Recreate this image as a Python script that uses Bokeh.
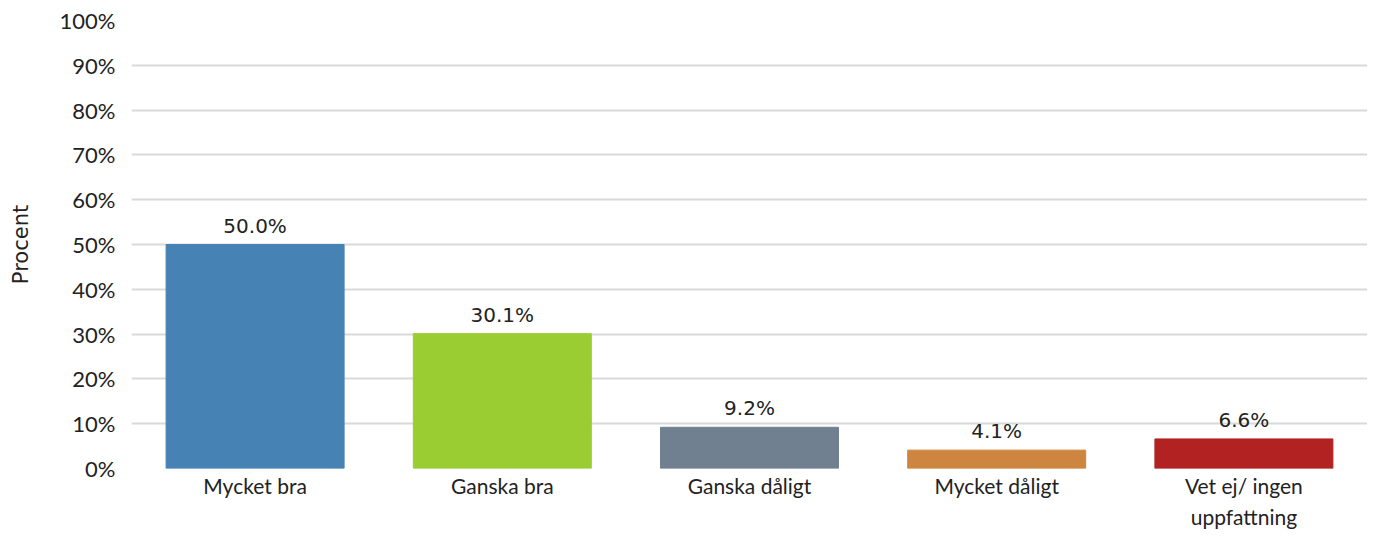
from bokeh.plotting import figure
from bokeh.models import ColumnDataSource, Range1d, FactorRange, PrintfTickFormatter, FixedTicker, LabelSet
from bokeh.core.properties import value
from bokeh.embed import file_html
from bokeh.resources import INLINE

categories = ["Mycket bra", "Ganska bra", "Ganska dåligt", "Mycket dåligt", "Vet ej/ ingen\nuppfattning"]
values = [50.0, 30.1, 9.2, 4.1, 6.6]
labels = ["50.0%", "30.1%", "9.2%", "4.1%", "6.6%"]
colors = ["#4682B4", "#9ACD32", "#708090", "#CD853F", "#B22222"]
y_ticks = [0, 10, 20, 30, 40, 50, 60, 70, 80, 90, 100]

src = ColumnDataSource(dict(cat=categories, val=values, lab=labels, col=colors))

p = figure(x_range=FactorRange(*categories, range_padding=0), y_range=Range1d(0, 100),
           width=1367, height=531, output_backend="svg", toolbar_location=None,
           min_border_left=131, min_border_right=0, min_border_top=20, min_border_bottom=0)
p.outline_line_color = None
p.background_fill_color = "white"

p.vbar(x="cat", top="val", width=0.72, color="col", source=src)

p.add_layout(LabelSet(x="cat", y="val", text="lab", source=src, text_align="center",
                      text_baseline="bottom", y_offset=7, text_font_size="20px",
                      text_font=value("DejaVu Sans"), text_color="#222222"))

p.yaxis.ticker = FixedTicker(ticks=y_ticks)
p.yaxis.formatter = PrintfTickFormatter(format="%d%%")
p.yaxis.axis_line_color = None
p.yaxis.major_tick_line_color = None
p.yaxis.minor_tick_line_color = None
p.yaxis.major_label_text_font = "Lato"
p.yaxis.major_label_text_font_size = "22px"
p.yaxis.major_label_text_color = "#222222"
p.yaxis.major_label_standoff = 10
p.yaxis.axis_label = "Procent"
p.yaxis.axis_label_text_font = "DejaVu Sans"
p.yaxis.axis_label_text_font_style = "normal"
p.yaxis.axis_label_text_font_size = "21px"
p.yaxis.axis_label_text_color = "#222222"
p.yaxis.axis_label_standoff = 24

p.xaxis.axis_line_color = None
p.xaxis.major_tick_line_color = None
p.xaxis.minor_tick_line_color = None
p.xaxis.major_tick_out = 0
p.xaxis.major_label_text_font = "Lato"
p.xaxis.major_label_text_font_size = "21px"
p.xaxis.major_label_text_line_height = 1.25
p.xaxis.major_label_text_color = "#222222"
p.xaxis.major_label_standoff = 4

p.xgrid.grid_line_color = None
p.ygrid.grid_line_color = "#d9d9d9"
p.ygrid.grid_line_width = 2

open("out.html", "w").write(file_html(p, INLINE))
